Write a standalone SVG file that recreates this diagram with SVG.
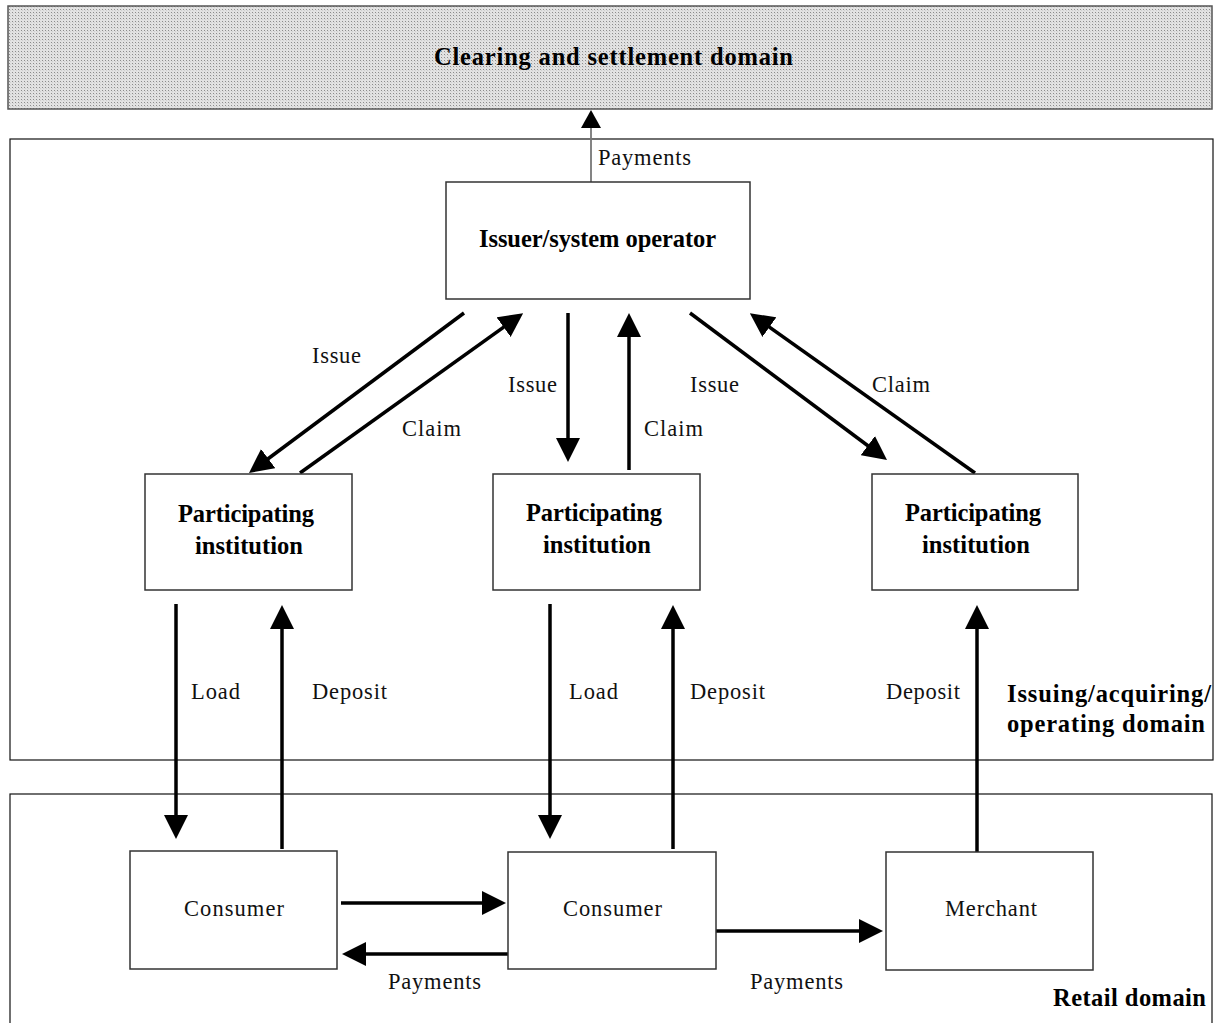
<svg xmlns="http://www.w3.org/2000/svg" width="1216" height="1023" viewBox="0 0 1216 1023">
  <style>
    .t { font-family: "Liberation Serif", "Times New Roman", serif; font-size: 22.5px; fill: #111; }
    .b { font-family: "Liberation Serif", "Times New Roman", serif; font-size: 24.5px; font-weight: bold; fill: #000; }
    .node { fill: #fff; stroke: #333; stroke-width: 1.5; }
    .domain { fill: none; stroke: #111; stroke-width: 1.2; }
    .arr { stroke: #000; stroke-width: 3.5; fill: none; marker-end: url(#head); }
  </style>
  <defs>
    <pattern id="dots" width="3" height="3" patternUnits="userSpaceOnUse">
      <rect width="3" height="3" fill="#e2e2e2"/>
      <rect width="1" height="1" fill="#8c8c8c"/>
      <rect x="1" y="1" width="1" height="1" fill="#cfcfcf"/>
    </pattern>
    <marker id="head" markerUnits="userSpaceOnUse" markerWidth="24" markerHeight="24" viewBox="0 0 24 24" refX="14" refY="12" orient="auto">
      <path d="M0,0 L24,12 L0,24 z" fill="#000"/>
    </marker>
    <marker id="headSmall" markerUnits="userSpaceOnUse" markerWidth="18" markerHeight="20" viewBox="0 0 18 20" refX="10" refY="10" orient="auto">
      <path d="M0,0 L18,10 L0,20 z" fill="#000"/>
    </marker>
  </defs>

  <g id="clearing-domain">
    <rect x="8" y="6" width="1204" height="103" fill="url(#dots)" stroke="#555" stroke-width="1.5"/>
    <text class="b" x="434" y="65" textLength="359" lengthAdjust="spacing">Clearing and settlement domain</text>
  </g>

  <g id="issuing-domain">
    <rect class="domain" x="10" y="139" width="1203" height="621"/>
    <text class="b" x="1007" y="702" textLength="204" lengthAdjust="spacing">Issuing/acquiring/</text>
    <text class="b" x="1007" y="732" textLength="198" lengthAdjust="spacing">operating domain</text>
  </g>

  <g id="retail-domain">
    <rect class="domain" x="10" y="794" width="1202" height="240"/>
    <text class="b" x="1053" y="1006" textLength="153" lengthAdjust="spacing">Retail domain</text>
  </g>

  <g id="connectors">
    <line x1="591" y1="182" x2="591" y2="118" stroke="#777" stroke-width="1.8" marker-end="url(#headSmall)"/>
    <text class="t" x="598" y="165" textLength="93" lengthAdjust="spacing">Payments</text>

    <line class="arr" x1="464" y1="313" x2="257" y2="467"/>
    <text class="t" x="312" y="363" textLength="49" lengthAdjust="spacing">Issue</text>
    <line class="arr" x1="300" y1="473" x2="515" y2="319"/>
    <text class="t" x="402" y="436" textLength="59" lengthAdjust="spacing">Claim</text>

    <line class="arr" x1="568" y1="313" x2="568" y2="452"/>
    <text class="t" x="508" y="392" textLength="49" lengthAdjust="spacing">Issue</text>
    <line class="arr" x1="629" y1="470" x2="629" y2="323"/>
    <text class="t" x="644" y="436" textLength="59" lengthAdjust="spacing">Claim</text>

    <line class="arr" x1="690" y1="313" x2="879" y2="454"/>
    <text class="t" x="690" y="392" textLength="49" lengthAdjust="spacing">Issue</text>
    <line class="arr" x1="975" y1="473" x2="758" y2="319"/>
    <text class="t" x="872" y="392" textLength="58" lengthAdjust="spacing">Claim</text>

    <line class="arr" x1="176" y1="604" x2="176" y2="829"/>
    <text class="t" x="191" y="699" textLength="49" lengthAdjust="spacing">Load</text>
    <line class="arr" x1="282" y1="849" x2="282" y2="615"/>
    <text class="t" x="312" y="699" textLength="75" lengthAdjust="spacing">Deposit</text>

    <line class="arr" x1="550" y1="604" x2="550" y2="829"/>
    <text class="t" x="569" y="699" textLength="49" lengthAdjust="spacing">Load</text>
    <line class="arr" x1="673" y1="849" x2="673" y2="615"/>
    <text class="t" x="690" y="699" textLength="75" lengthAdjust="spacing">Deposit</text>

    <line class="arr" x1="977" y1="852" x2="977" y2="615"/>
    <text class="t" x="886" y="699" textLength="74" lengthAdjust="spacing">Deposit</text>

    <line class="arr" x1="341" y1="903" x2="496" y2="903"/>
    <line class="arr" x1="509" y1="954" x2="352" y2="954"/>
    <text class="t" x="388" y="989" textLength="93" lengthAdjust="spacing">Payments</text>

    <line class="arr" x1="716" y1="931" x2="873" y2="931"/>
    <text class="t" x="750" y="989" textLength="93" lengthAdjust="spacing">Payments</text>
  </g>

  <g id="issuer">
    <rect class="node" x="446" y="182" width="304" height="117"/>
    <text class="b" x="479" y="247" textLength="237" lengthAdjust="spacing">Issuer/system operator</text>
  </g>

  <g id="pi-left">
    <rect class="node" x="145" y="474" width="207" height="116"/>
    <text class="b" x="178" y="522" textLength="136" lengthAdjust="spacing">Participating</text>
    <text class="b" x="195" y="554" textLength="108" lengthAdjust="spacing">institution</text>
  </g>

  <g id="pi-middle">
    <rect class="node" x="493" y="474" width="207" height="116"/>
    <text class="b" x="526" y="521" textLength="136" lengthAdjust="spacing">Participating</text>
    <text class="b" x="543" y="553" textLength="108" lengthAdjust="spacing">institution</text>
  </g>

  <g id="pi-right">
    <rect class="node" x="872" y="474" width="206" height="116"/>
    <text class="b" x="905" y="521" textLength="136" lengthAdjust="spacing">Participating</text>
    <text class="b" x="922" y="553" textLength="108" lengthAdjust="spacing">institution</text>
  </g>

  <g id="consumer-left">
    <rect class="node" x="130" y="851" width="207" height="118"/>
    <text class="t" x="184" y="916" textLength="100" lengthAdjust="spacing">Consumer</text>
  </g>

  <g id="consumer-middle">
    <rect class="node" x="508" y="852" width="208" height="117"/>
    <text class="t" x="563" y="916" textLength="99" lengthAdjust="spacing">Consumer</text>
  </g>

  <g id="merchant">
    <rect class="node" x="886" y="852" width="207" height="118"/>
    <text class="t" x="945" y="916" textLength="92" lengthAdjust="spacing">Merchant</text>
  </g>
</svg>
